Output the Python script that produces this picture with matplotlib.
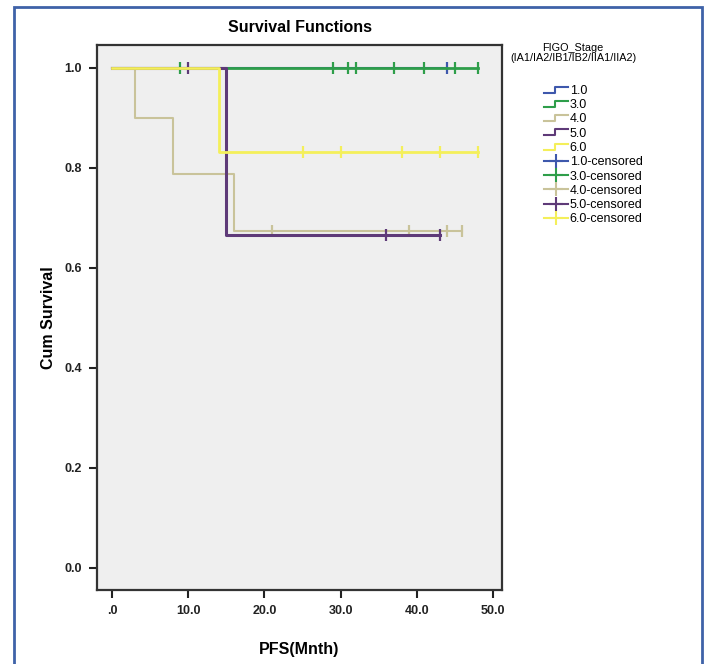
import matplotlib.pyplot as plt
from matplotlib.lines import Line2D
from matplotlib.legend_handler import HandlerBase
from matplotlib.patches import Rectangle

# survival steps per FIGO stage
stages = ['1.0', '3.0', '4.0', '5.0', '6.0']
colors = ['#3e58ac', '#2e9e4a', '#c9c39a', '#5e3a78', '#f4ef5a']
step_times = [
    [0, 44],
    [0, 48],
    [0, 3, 8, 16, 46],
    [0, 15, 43],
    [0, 14, 48],
]
step_surv = [
    [1.0, 1.0],
    [1.0, 1.0],
    [1.0, 0.9, 0.7875, 0.675, 0.675],
    [1.0, 0.667, 0.667],
    [1.0, 0.833, 0.833],
]
cens_times = [
    [44],
    [8.9, 29, 31, 32, 37, 41, 45, 48],
    [21, 39, 44, 46],
    [9.9, 36, 43],
    [25, 30, 38, 43, 48],
]
cens_surv = [
    [1.0],
    [1.0] * 8,
    [0.675] * 4,
    [1.0, 0.667, 0.667],
    [0.833] * 5,
]
line_widths = [1.5, 2.0, 1.5, 2.2, 2.0]

xticks = [0, 10, 20, 30, 40, 50]
xticklabels = ['.0', '10.0', '20.0', '30.0', '40.0', '50.0']
yticks = [0.0, 0.2, 0.4, 0.6, 0.8, 1.0]
yticklabels = ['0.0', '0.2', '0.4', '0.6', '0.8', '1.0']

plt.rcParams['font.family'] = ['Liberation Sans', 'DejaVu Sans']

fig = plt.figure(figsize=(7.08, 6.64), dpi=100)
ax = fig.add_axes([97 / 708, 1 - 590 / 664, 405 / 708, 545 / 664])
ax.set_facecolor('#efefef')

for i in range(len(stages)):
    ax.step(step_times[i], step_surv[i], where='post', color=colors[i],
            lw=line_widths[i], zorder=2 + i)
    ax.plot(cens_times[i], cens_surv[i], ls='none', marker='|', ms=9,
            mew=1.6, color=colors[i], zorder=2 + i)

ax.set_xlim(-2, 51.2)
ax.set_ylim(-0.044, 1.046)
ax.set_xticks(xticks)
ax.set_xticklabels(xticklabels)
ax.set_yticks(yticks)
ax.set_yticklabels(yticklabels)
ax.tick_params(direction='out', length=6, width=1.5, labelsize=9, colors='#222222', pad=5)
for lab in ax.get_xticklabels() + ax.get_yticklabels():
    lab.set_fontweight('bold')
for s in ax.spines.values():
    s.set_linewidth(1.6)
    s.set_color('#333333')

ax.set_title('Survival Functions', fontsize=11.5, fontweight='bold', pad=9)
ax.set_xlabel('PFS(Mnth)', fontsize=11.5, fontweight='bold', labelpad=18)
ax.set_ylabel('Cum Survival', fontsize=11.5, fontweight='bold', labelpad=6)


class StepHandler(HandlerBase):
    def create_artists(self, legend, orig, x0, y0, width, height, fontsize, trans):
        xs = [x0, x0 + width * 0.45, x0 + width * 0.45, x0 + width]
        ys = [y0 + height * 0.15, y0 + height * 0.15, y0 + height * 0.85, y0 + height * 0.85]
        ln = Line2D(xs, ys, color=orig.get_color(), lw=1.5, transform=trans)
        return [ln]


handles = []
labels = []
for i in range(len(stages)):
    handles.append(Line2D([], [], color=colors[i]))
    labels.append(stages[i])
for i in range(len(stages)):
    h = Line2D([], [], color=colors[i], marker='+', ms=10, mew=1.5, lw=1.5)
    handles.append(h)
    labels.append(stages[i] + '-censored')

hmap = {h: StepHandler() for h in handles[:5]}
leg = fig.legend(handles, labels, loc='upper left', bbox_to_anchor=(544 / 708, 1 - 85 / 664),
                 frameon=False, fontsize=9, handlelength=1.9, handletextpad=0.15,
                 labelspacing=0.18, handler_map=hmap, borderaxespad=0, borderpad=0)

fig.text(573 / 708, 1 - 53 / 664, 'FIGO_Stage\n(IA1/IA2/IB1/IB2/IIA1/IIA2)', ha='center',
         va='center', fontsize=7.8, linespacing=0.95)

fig.patches.append(Rectangle((14 / 708, -0.05), 688 / 708, 1.05 - 7 / 664,
                             transform=fig.transFigure, fill=False,
                             edgecolor='#3f62a8', lw=2))

fig.savefig('out.png', dpi=100)
